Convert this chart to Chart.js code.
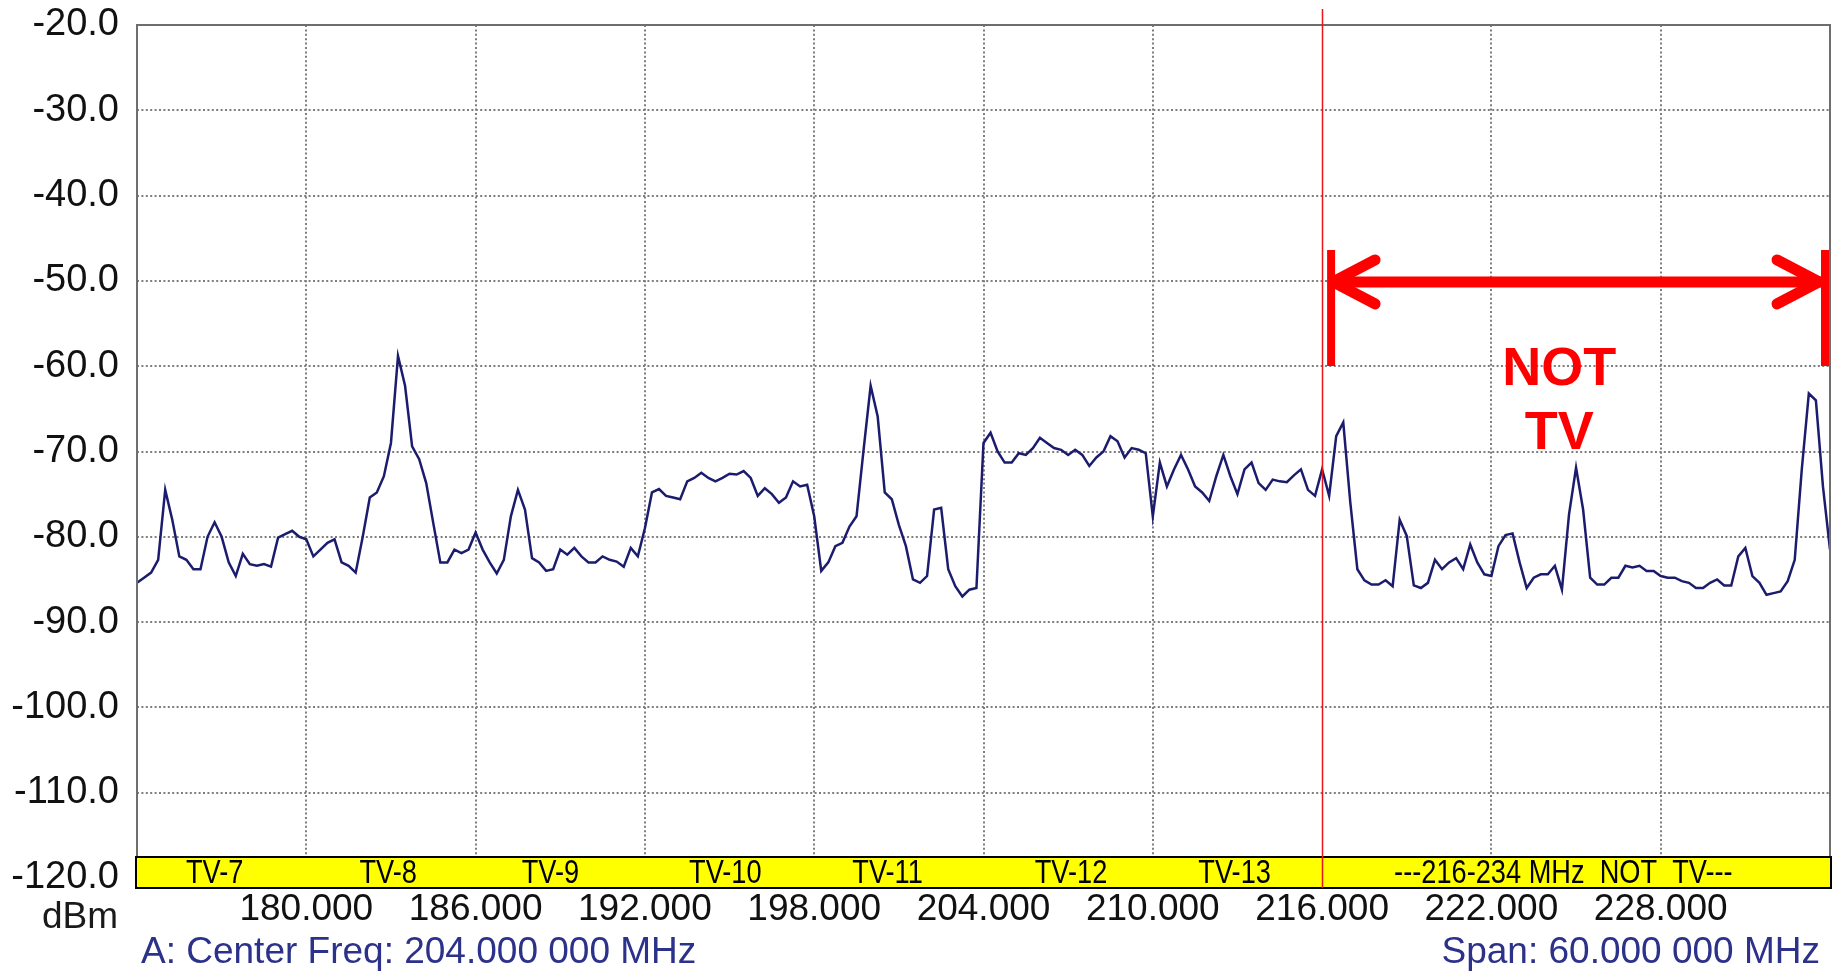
<!DOCTYPE html>
<html>
<head>
<meta charset="utf-8">
<title>Spectrum 174-234 MHz</title>
<script src="https://cdn.jsdelivr.net/npm/chart.js@4.4.1/dist/chart.umd.min.js"></script>
<style>
  html, body { margin: 0; padding: 0; background: #fff; }
  canvas { display: block; }
</style>
</head>
<body>
<canvas id="spectrum" width="1843" height="974"></canvas>
<script>
// sweep: 174.00 .. 234.00 MHz, one reading every 0.25 MHz (dBm)
const startMHz = 174;
const stepMHz = 0.25;
const levels = [
  -85.4, -84.8, -84.2, -82.7, -74.5, -78.0, -82.3, -82.7,   // 174
  -83.8, -83.8, -80.0, -78.3, -80.0, -83.0, -84.6, -82.0,   // 176
  -83.2, -83.4, -83.2, -83.5, -80.1, -79.7, -79.3, -80.0,   // 178
  -80.3, -82.3, -81.5, -80.7, -80.3, -83.0, -83.4, -84.2,   // 180
  -80.0, -75.4, -74.8, -72.9, -69.0, -58.8, -62.3, -69.4,   // 182
  -70.9, -73.7, -78.4, -83.0, -83.0, -81.5, -81.9, -81.5,   // 184
  -79.5, -81.5, -83.0, -84.3, -82.7, -77.6, -74.5, -76.8,   // 186
  -82.5, -83.0, -84.0, -83.8, -81.5, -82.1, -81.3, -82.3,   // 188
  -83.0, -83.0, -82.3, -82.7, -82.9, -83.5, -81.3, -82.3,   // 190
  -79.0, -74.8, -74.4, -75.2, -75.4, -75.6, -73.5, -73.1,   // 192
  -72.5, -73.1, -73.5, -73.1, -72.6, -72.7, -72.3, -73.1,   // 194
  -75.2, -74.3, -75.0, -76.0, -75.4, -73.5, -74.1, -73.9,   // 196
  -77.6, -84.0, -83.0, -81.1, -80.7, -78.8, -77.6, -69.8,   // 198
  -62.3, -65.9, -74.8, -75.6, -78.6, -81.1, -85.0, -85.4,   // 200
  -84.6, -76.8, -76.6, -83.8, -85.8, -87.0, -86.2, -86.0,   // 202
  -69.0, -67.8, -70.0, -71.3, -71.3, -70.2, -70.4, -69.6,   // 204
  -68.4, -69.0, -69.6, -69.8, -70.4, -69.8, -70.4, -71.7,   // 206
  -70.7, -70.0, -68.2, -68.8, -70.7, -69.6, -69.8, -70.2,   // 208
  -77.6, -71.3, -74.1, -72.1, -70.4, -72.1, -74.1, -74.8,   // 210
  -75.8, -72.9, -70.4, -72.9, -75.0, -72.1, -71.3, -73.7,   // 212
  -74.5, -73.3, -73.5, -73.6, -72.8, -72.1, -74.5, -75.2,   // 214
  -72.1, -75.2, -68.2, -66.6, -76.0, -83.8, -85.1, -85.6,   // 216
  -85.6, -85.1, -85.8, -78.0, -79.9, -85.7, -86.0, -85.4,   // 218
  -82.7, -83.8, -83.0, -82.5, -83.8, -80.9, -83.0, -84.4,   // 220
  -84.6, -81.1, -79.8, -79.6, -83.0, -86.0, -84.8, -84.4,   // 222
  -84.4, -83.4, -86.2, -77.4, -71.9, -76.8, -84.8, -85.6,   // 224
  -85.6, -84.8, -84.8, -83.4, -83.6, -83.4, -84.0, -84.0,   // 226
  -84.6, -84.8, -84.8, -85.2, -85.4, -86.0, -86.0, -85.4,   // 228
  -85.0, -85.7, -85.7, -82.3, -81.3, -84.6, -85.4, -86.8,   // 230
  -86.6, -86.4, -85.2, -82.7, -72.1, -63.2, -64.0, -74.1,   // 232
  -81.5                                                     // 234
];

const freqTicks = [180, 186, 192, 198, 204, 210, 216, 222, 228];
const dbTicks = [-20, -30, -40, -50, -60, -70, -80, -90, -100, -110, -120];

// channel band labels and where they sit (MHz)
const channels = ['TV-7', 'TV-8', 'TV-9', 'TV-10', 'TV-11', 'TV-12', 'TV-13'];
const channelLabelAt = [176.75, 182.9, 188.65, 194.85, 200.6, 207.1, 212.9];
const notTvLabel = '---216-234 MHz  NOT  TV---';
const notTvLabelAt = 224.55;
const markerFreq = 216;
const notTvRange = [216, 234];

const centerText = 'A: Center Freq: 204.000 000 MHz';
const spanText = 'Span: 60.000 000 MHz';
const unitText = 'dBm';

const points = levels.map((v, i) => ({ x: startMHz + i * stepMHz, y: v }));

Chart.defaults.font.family = '"Liberation Sans", Arial, sans-serif';

// condensed text for the channel band
function narrowText(c, text, x, y) {
  c.save();
  c.translate(x, y);
  c.scale(0.8, 1);
  c.fillText(text, 0, 0);
  c.restore();
}

const overlay = {
  id: 'overlay',
  afterDraw(chart) {
    const c = chart.ctx;
    const area = chart.chartArea;
    const xs = chart.scales.x;
    const ys = chart.scales.y;

    // plot frame
    c.save();
    c.strokeStyle = '#6e6e6e';
    c.lineWidth = 2;
    c.strokeRect(area.left, area.top, area.right - area.left, area.bottom - area.top);

    // yellow channel band
    const bandTop = area.bottom - 21;
    const bandBot = area.bottom + 10;
    c.fillStyle = '#ffff00';
    c.fillRect(area.left - 1, bandTop, area.right - area.left + 2, bandBot - bandTop);
    c.strokeStyle = '#000';
    c.lineWidth = 2;
    c.strokeRect(area.left - 1, bandTop, area.right - area.left + 2, bandBot - bandTop);

    c.fillStyle = '#000';
    c.font = '34px "Liberation Sans", sans-serif';
    c.textAlign = 'center';
    c.textBaseline = 'middle';
    const bandMid = (bandTop + bandBot) / 2 + 1;
    channels.forEach((name, i) => {
      narrowText(c, name, xs.getPixelForValue(channelLabelAt[i]), bandMid);
    });
    narrowText(c, notTvLabel, xs.getPixelForValue(notTvLabelAt), bandMid);

    // red marker at 216 MHz
    const mx = Math.round(xs.getPixelForValue(markerFreq)) + 0.5;
    c.strokeStyle = '#e8161b';
    c.lineWidth = 1.5;
    c.beginPath();
    c.moveTo(mx, 9);
    c.lineTo(mx, bandBot);
    c.stroke();

    // NOT TV range arrow
    const ay = ys.getPixelForValue(-50) + 1;
    const ax1 = xs.getPixelForValue(notTvRange[0]) + 9;
    const ax2 = xs.getPixelForValue(notTvRange[1]) - 5;
    c.strokeStyle = '#ff0000';
    c.lineCap = 'butt';
    c.lineWidth = 8;
    c.beginPath();
    c.moveTo(ax1, ay - 32); c.lineTo(ax1, ay + 84);
    c.moveTo(ax2, ay - 32); c.lineTo(ax2, ay + 84);
    c.stroke();
    c.lineWidth = 11;
    c.beginPath();
    c.moveTo(ax1 + 2, ay); c.lineTo(ax2 - 4, ay);
    c.stroke();
    c.lineCap = 'round';
    c.lineJoin = 'round';
    c.beginPath();
    c.moveTo(ax1 + 44, ay - 22); c.lineTo(ax1 + 2, ay); c.lineTo(ax1 + 44, ay + 22);
    c.moveTo(ax2 - 48, ay - 22); c.lineTo(ax2 - 6, ay); c.lineTo(ax2 - 48, ay + 22);
    c.stroke();

    c.fillStyle = '#ff0000';
    c.font = 'bold 54px "Liberation Sans", Arial, sans-serif';
    c.textAlign = 'center';
    c.textBaseline = 'middle';
    const tx = xs.getPixelForValue(notTvLabelAt) - 4;
    c.fillText('NOT', tx, 370);
    c.fillText('TV', tx, 434);

    // footer texts
    c.font = '37px "Liberation Sans", Arial, sans-serif';
    c.fillStyle = '#1a1a1a';
    c.textAlign = 'center';
    c.fillText(unitText, 80, 918);
    c.fillStyle = '#2c318a';
    c.textAlign = 'left';
    c.fillText(centerText, 141, 953);
    c.textAlign = 'right';
    c.fillText(spanText, 1820, 953);
    c.restore();
  }
};

const ctx = document.getElementById('spectrum').getContext('2d');
const chart = new Chart(ctx, {
  type: 'line',
  data: {
    datasets: [{
      data: points,
      borderColor: '#1c1c6e',
      borderWidth: 2.5,
      pointRadius: 0,
      tension: 0,
      fill: false
    }]
  },
  options: {
    responsive: false,
    animation: false,
    devicePixelRatio: 1,
    layout: { padding: { top: 25, right: 13, left: 0, bottom: 0 } },
    plugins: {
      legend: { display: false },
      tooltip: { enabled: false }
    },
    scales: {
      x: {
        type: 'linear',
        min: 174,
        max: 234,
        afterBuildTicks: s => { s.ticks = freqTicks.map(v => ({ value: v })); },
        afterFit: s => { s.height = 96; s.paddingLeft = 0; s.paddingRight = 0; },
        grid: {
          color: c => (c.tick && c.tick.value === markerFreq) ? 'rgba(0,0,0,0)' : '#7e7e7e',
          lineWidth: 2,
          drawTicks: false
        },
        border: { display: false, dash: [2, 2.4] },
        ticks: {
          padding: 10,
          maxRotation: 0,
          autoSkip: false,
          color: '#111',
          font: { size: 37 },
          callback: v => v.toFixed(3)
        }
      },
      y: {
        min: -120,
        max: -20,
        afterBuildTicks: s => { s.ticks = dbTicks.map(v => ({ value: v })); },
        afterFit: s => { s.width = 137; s.paddingTop = 0; s.paddingBottom = 0; },
        grid: { color: '#7e7e7e', lineWidth: 2, drawTicks: false },
        border: { display: false, dash: [2, 2.4] },
        ticks: {
          padding: 18,
          color: '#111',
          font: { size: 38 },
          callback: v => v.toFixed(1)
        }
      }
    }
  },
  plugins: [overlay]
});
</script>
</body>
</html>
